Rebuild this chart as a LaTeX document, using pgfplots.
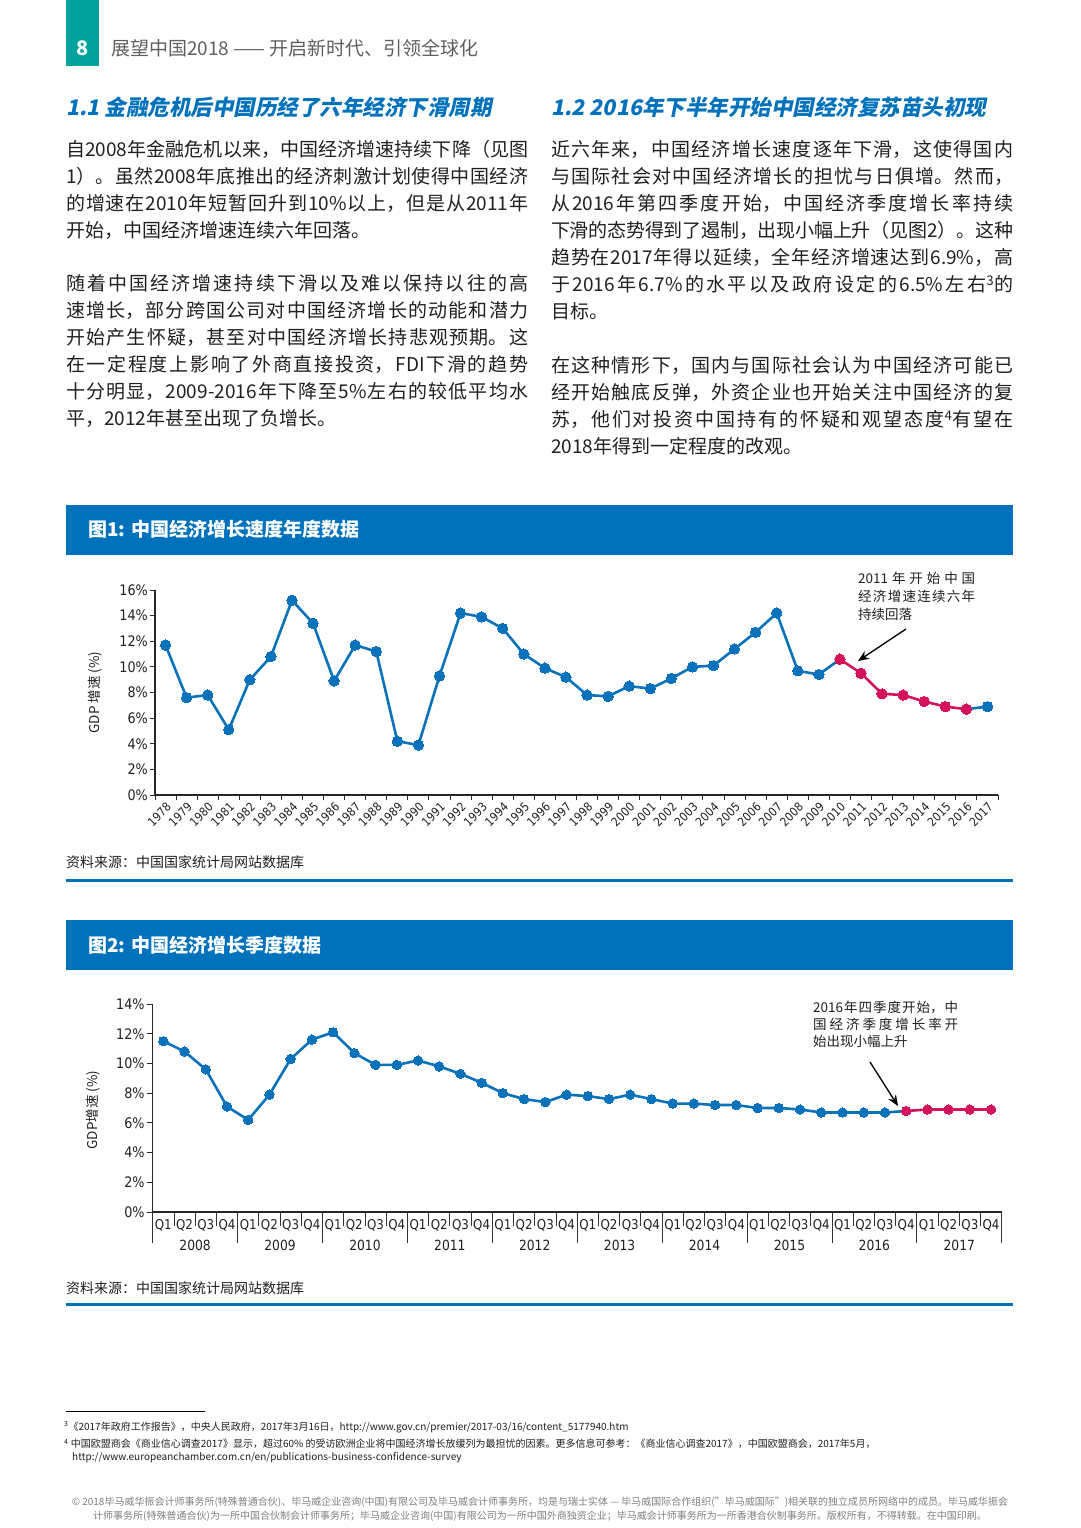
\documentclass[border=0pt]{standalone}
\usepackage{pgfplots}
\pgfplotsset{compat=1.18}
\usepackage{fontspec}
\usetikzlibrary{arrows.meta}
\setmainfont{Noto Sans CJK SC}
\newfontfamily\titlefont{Noto Sans CJK SC}[FakeSlant=0.2]
\newfontfamily\tickfont{DejaVu Sans}[FakeStretch=0.88]
\XeTeXlinebreaklocale "zh"
\XeTeXlinebreakskip=0pt plus 4pt minus 0.6pt
\tolerance=10000
\hbadness=10000
\definecolor{cblue}{RGB}{10,114,186}
\definecolor{cred}{RGB}{213,18,92}
\definecolor{barblue}{RGB}{0,114,187}
\definecolor{teal8}{RGB}{0,163,156}
\definecolor{txt}{RGB}{35,31,32}
\definecolor{hdrgray}{RGB}{95,95,95}
\begin{document}
\begin{tikzpicture}[x=1pt,y=1pt]
\useasboundingbox (0,0) rectangle (1080,-1528);
\fill[white] (0,0) rectangle (1080,-1528);
% header
\fill[teal8] (66,0) rectangle (99,-66);
\node[text=white, font=\bfseries\fontsize{20}{20}\selectfont] at (82.5,-48) {8};
\node[anchor=west, inner sep=0, text=hdrgray, font=\fontsize{19}{19}\selectfont] at (111,-48) {展望中国2018 —— 开启新时代、引领全球化};
% section titles
\node[anchor=west, inner sep=0, text=barblue, font=\titlefont\bfseries\fontsize{21.5}{21.5}\selectfont] at (66,-107) {1.1\ 金融危机后中国历经了六年经济下滑周期};
\node[anchor=west, inner sep=0, text=barblue, font=\titlefont\bfseries\fontsize{21.5}{21.5}\selectfont] at (551,-107) {1.2\ 2016年下半年开始中国经济复苏苗头初现};
% body text
\tikzset{body/.style={anchor=north west, inner sep=0, text width=462pt, align=justify, text=txt, font=\fontsize{19}{27}\selectfont}}
\node[body] at (66,-140) {自2008年金融危机以来，中国经济增速持续下降（见图\linebreak 1）。虽然2008年底推出的经济刺激计划使得中国经济\linebreak 的增速在2010年短暂回升到10\%以上，但是从2011年\linebreak 开始，中国经济增速连续六年回落。};
\node[body] at (66,-274) {随着中国经济增速持续下滑以及难以保持以往的高\linebreak 速增长，部分跨国公司对中国经济增长的动能和潜力\linebreak 开始产生怀疑，甚至对中国经济增长持悲观预期。这\linebreak 在一定程度上影响了外商直接投资，FDI下滑的趋势\linebreak 十分明显，2009-2016年下降至5\%左右的较低平均水\linebreak 平，2012年甚至出现了负增长。};
\node[body] at (551,-140) {近六年来，中国经济增长速度逐年下滑，这使得国内\linebreak 与国际社会对中国经济增长的担忧与日俱增。然而，\linebreak 从2016年第四季度开始，中国经济季度增长率持续\linebreak 下滑的态势得到了遏制，出现小幅上升（见图2）。这种\linebreak 趋势在2017年得以延续，全年经济增速达到6.9\%，高\linebreak 于2016年6.7\%的水平以及政府设定的6.5\%左右\textsuperscript{3}的\linebreak 目标。};
\node[body] at (551,-356) {在这种情形下，国内与国际社会认为中国经济可能已\linebreak 经开始触底反弹，外资企业也开始关注中国经济的复\linebreak 苏，他们对投资中国持有的怀疑和观望态度\textsuperscript{4}有望在\linebreak 2018年得到一定程度的改观。};
% figure 1 header
\fill[barblue] (66,-505) rectangle (1013,-555);
\node[anchor=west, inner sep=0, text=white, font=\bfseries\fontsize{19}{19}\selectfont] at (88,-529.5) {图1: 中国经济增长速度年度数据};
% figure 1
\begin{axis}[
  at={(155pt,-795pt)}, anchor=south west,
  scale only axis, width=843pt, height=205pt,
  xmin=1977.5, xmax=2017.5, ymin=0, ymax=16,
  clip=false,
  axis lines=left,
  axis line style={-, line width=1.3pt, black!85},
  xtick={1978,...,2017},
  major x tick style={draw=none},
  minor xtick={1977.5,1978.5,...,2017.5},
  minor x tick style={draw=black!85, line width=1pt},
  minor tick length=5pt,
  tick align=outside,
  ytick={0,2,...,16},
  major y tick style={draw=black!85, line width=1pt},
  major tick length=5pt,
  yticklabel={\pgfmathprintnumber{\tick}\%},
  /pgf/number format/assume math mode=true,
  x tick label style={/pgf/number format/1000 sep={}, rotate=45, anchor=north east, font=\tickfont\fontsize{12}{12}\selectfont, text=txt, inner sep=1pt},
  y tick label style={font=\tickfont\fontsize{14.5}{14.5}\selectfont, text=txt, inner sep=2pt},
  ylabel={GDP 增速 (\%)},
  ylabel style={at={(axis description cs:-0.0712,0.5)}, anchor=center, font=\fontsize{13.5}{13.5}\selectfont, text=txt},
]
\addplot[cblue, line width=2.6pt, line join=round, mark=*, mark size=5.2pt, mark options={solid, line width=0pt, fill=cblue}] coordinates {
(1978,11.7)(1979,7.6)(1980,7.8)(1981,5.1)(1982,9.0)(1983,10.8)(1984,15.2)(1985,13.4)(1986,8.9)(1987,11.7)
(1988,11.2)(1989,4.2)(1990,3.9)(1991,9.3)(1992,14.2)(1993,13.9)(1994,13.0)(1995,11.0)(1996,9.9)(1997,9.2)
(1998,7.8)(1999,7.7)(2000,8.5)(2001,8.3)(2002,9.1)(2003,10.0)(2004,10.1)(2005,11.4)(2006,12.7)(2007,14.2)
(2008,9.7)(2009,9.4)(2010,10.6)};
\addplot[cblue, line width=2.6pt, line join=round, mark=*, mark size=5.2pt, mark options={solid, line width=0pt, fill=cblue}] coordinates {(2016,6.7)(2017,6.9)};
\addplot[cred, line width=2.6pt, line join=round, mark=*, mark size=5.2pt, mark options={solid, line width=0pt, fill=cred}] coordinates {
(2010,10.6)(2011,9.5)(2012,7.9)(2013,7.8)(2014,7.3)(2015,6.9)(2016,6.7)};
\end{axis}
\node[anchor=north west, inner sep=0, text width=117pt, align=justify, text=txt, font=\fontsize{13.5}{18}\selectfont] at (858,-572) {2011年开始中国\linebreak 经济增速连续六年\linebreak 持续回落};
\draw[-{Stealth[length=11pt,width=9pt]}, line width=1.3pt] (906,-629) -- (858,-661);
% source 1
\node[anchor=west, inner sep=0, text=txt, font=\fontsize{14}{14}\selectfont] at (66,-862) {资料来源：中国国家统计局网站数据库};
\draw[barblue, line width=3pt] (66,-880) -- (1013,-880);
% figure 2 header
\fill[barblue] (66,-920) rectangle (1013,-970);
\node[anchor=west, inner sep=0, text=white, font=\bfseries\fontsize{19}{19}\selectfont] at (88,-945) {图2: 中国经济增长季度数据};
% figure 2
\begin{axis}[
  at={(152.7pt,-1212pt)}, anchor=south west,
  scale only axis, width=849pt, height=208pt,
  xmin=-0.5, xmax=39.5, ymin=0, ymax=14,
  clip=false,
  axis lines=left,
  axis line style={-, line width=1.3pt, black!85},
  xtick={0,...,39},
  xticklabels={Q1,Q2,Q3,Q4,Q1,Q2,Q3,Q4,Q1,Q2,Q3,Q4,Q1,Q2,Q3,Q4,Q1,Q2,Q3,Q4,Q1,Q2,Q3,Q4,Q1,Q2,Q3,Q4,Q1,Q2,Q3,Q4,Q1,Q2,Q3,Q4,Q1,Q2,Q3,Q4},
  major x tick style={draw=none},
  minor xtick={0.5,1.5,2.5,4.5,5.5,6.5,8.5,9.5,10.5,12.5,13.5,14.5,16.5,17.5,18.5,20.5,21.5,22.5,24.5,25.5,26.5,28.5,29.5,30.5,32.5,33.5,34.5,36.5,37.5,38.5},
  minor x tick style={draw=black!80, line width=0.8pt},
  minor tick length=14pt,
  extra x ticks={-0.5,3.5,...,39.5},
  extra x tick labels={},
  extra x tick style={major tick length=31pt, major x tick style={draw=black!80, line width=0.8pt}},
  tick align=outside,
  ytick={0,2,...,14},
  major y tick style={draw=black!85, line width=1pt},
  major tick length=6pt,
  yticklabel={\pgfmathprintnumber{\tick}\%},
  /pgf/number format/assume math mode=true,
  x tick label style={font=\tickfont\fontsize{13.5}{13.5}\selectfont, text=txt, inner sep=1pt},
  y tick label style={font=\tickfont\fontsize{14.5}{14.5}\selectfont, text=txt, inner sep=2pt},
  ylabel={GDP增速 (\%)},
  ylabel style={at={(axis description cs:-0.0703,0.49)}, anchor=center, font=\fontsize{13.5}{13.5}\selectfont, text=txt},
]
\addplot[cblue, line width=2.6pt, line join=round, mark=*, mark size=4.7pt, mark options={solid, line width=0pt, fill=cblue}] coordinates {
(0,11.5)(1,10.8)(2,9.6)(3,7.1)(4,6.2)(5,7.9)(6,10.3)(7,11.6)(8,12.1)(9,10.7)
(10,9.9)(11,9.9)(12,10.2)(13,9.8)(14,9.3)(15,8.7)(16,8.0)(17,7.6)(18,7.4)(19,7.9)
(20,7.8)(21,7.6)(22,7.9)(23,7.6)(24,7.3)(25,7.3)(26,7.2)(27,7.2)(28,7.0)(29,7.0)
(30,6.9)(31,6.7)(32,6.7)(33,6.7)(34,6.7)(35,6.8)};
\addplot[cred, line width=2.6pt, line join=round, mark=*, mark size=4.7pt, mark options={solid, line width=0pt, fill=cred}] coordinates {
(35,6.8)(36,6.9)(37,6.9)(38,6.9)(39,6.9)};
\pgfplotsinvokeforeach{0,...,9}{
  \node[font=\tickfont\fontsize{14}{14}\selectfont, text=txt] at (axis cs:{#1*4+1.5},0) [yshift=-33pt] {\the\numexpr2008+#1\relax};
}
\end{axis}
\node[anchor=north west, inner sep=0, text width=145pt, align=justify, text=txt, font=\fontsize{13.5}{17}\selectfont] at (813,-1001) {2016年四季度开始，中\linebreak 国经济季度增长率开\linebreak 始出现小幅上升};
\draw[-{Stealth[length=11pt,width=9pt]}, line width=1.3pt] (870,-1062) -- (898,-1106);
% source 2
\node[anchor=west, inner sep=0, text=txt, font=\fontsize{14}{14}\selectfont] at (66,-1288) {资料来源：中国国家统计局网站数据库};
\draw[barblue, line width=3pt] (66,-1304) -- (1013,-1304);
% footnotes
\draw[line width=0.6pt] (66,-1411) -- (205,-1411);
\node[anchor=west, inner sep=0, text=txt, font=\fontsize{10}{10}\selectfont] at (64,-1427) {\textsuperscript{3}《2017年政府工作报告》，中央人民政府，2017年3月16日，http://www.gov.cn/premier/2017-03/16/content\_5177940.htm};
\node[anchor=west, inner sep=0, text=txt, font=\fontsize{10}{10}\selectfont] at (64,-1444) {\textsuperscript{4}\ 中国欧盟商会《商业信心调查2017》显示，超过60\% 的受访欧洲企业将中国经济增长放缓列为最担忧的因素。更多信息可参考：《商业信心调查2017》，中国欧盟商会，2017年5月，};
\node[anchor=west, inner sep=0, text=txt, font=\fontsize{10}{10}\selectfont] at (72,-1458) {http://www.europeanchamber.com.cn/en/publications-business-confidence-survey};
% copyright
\node[inner sep=0, text=black!50, font=\fontsize{10}{10}\selectfont] at (540,-1502) {© 2018毕马威华振会计师事务所(特殊普通合伙)、毕马威企业咨询(中国)有限公司及毕马威会计师事务所，均是与瑞士实体 — 毕马威国际合作组织("毕马威国际")相关联的独立成员所网络中的成员。毕马威华振会};
\node[inner sep=0, text=black!50, font=\fontsize{10}{10}\selectfont] at (540,-1516) {计师事务所(特殊普通合伙)为一所中国合伙制会计师事务所；毕马威企业咨询(中国)有限公司为一所中国外商独资企业；毕马威会计师事务所为一所香港合伙制事务所。版权所有，不得转载。在中国印刷。};
\end{tikzpicture}
\end{document}
